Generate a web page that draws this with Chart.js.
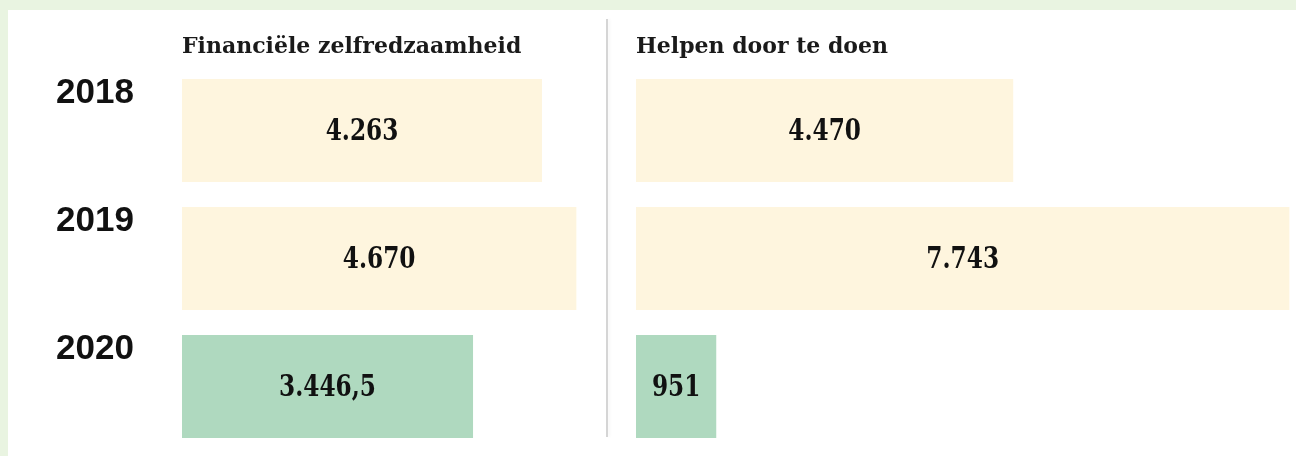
<!DOCTYPE html>
<html>
<head>
<meta charset="utf-8">
<script src="https://cdn.jsdelivr.net/npm/chart.js@4/dist/chart.umd.min.js"></script>
<style>
  body { margin: 0; width: 1296px; height: 456px; background: #e9f4e1; overflow: hidden; position: relative; }
  .panel { position: absolute; left: 8px; top: 10px; right: 0; bottom: 0; background: #fff; }
  .divider { position: absolute; left: 606px; top: 19px; height: 418px; width: 0; border-left: 2px solid #d5d5d5; box-shadow: 2px 0 3px rgba(0,0,0,0.04); }
  #links { position: absolute; left: 0; top: 0; }
  #rechts { position: absolute; left: 606px; top: 0; }
</style>
</head>
<body>
<div class="panel"></div>
<div class="divider"></div>
<canvas id="links" width="606" height="456"></canvas>
<canvas id="rechts" width="690" height="456"></canvas>
<script>
const years = ['2018', '2019', '2020'];
const financieel = [4263, 4670, 3446.5];
const helpen = [4470, 7743, 951];
const titles = ['Financiële zelfredzaamheid', 'Helpen door te doen'];

const cream = '#fef5de';
const green = '#afd9bf';
const barColors = [cream, cream, green];

// titel linksboven het chart area + waarden midden in de balken
const panelText = {
  id: 'panelText',
  afterDatasetsDraw(chart, args, opts) {
    const ctx = chart.ctx;
    ctx.save();
    ctx.fillStyle = '#1a1a1a';
    ctx.font = 'bold 22px "DejaVu Serif"';
    ctx.textAlign = 'left';
    ctx.textBaseline = 'middle';
    ctx.fillText(opts.title, chart.chartArea.left, 47);

    // smalle, hoge cijfers
    ctx.font = 'bold 30px "DejaVu Serif Condensed", "DejaVu Serif"';
    ctx.textAlign = 'center';
    ctx.fillStyle = '#111';
    const meta = chart.getDatasetMeta(0);
    meta.data.forEach((bar, i) => {
      const v = chart.data.datasets[0].data[i];
      const x = (bar.base + bar.x) / 2;
      ctx.save();
      ctx.translate(x, bar.y + 2);
      ctx.scale(0.86, 1);
      ctx.fillText(v.toLocaleString('nl-NL'), 0, 0);
      ctx.restore();
    });
    ctx.restore();
  }
};

function makeChart(id, data, title, max, showYears) {
  return new Chart(document.getElementById(id), {
    type: 'bar',
    data: {
      labels: years,
      datasets: [{
        data: data,
        backgroundColor: barColors,
        borderWidth: 0,
        barPercentage: 0.805,
        categoryPercentage: 1
      }]
    },
    options: {
      indexAxis: 'y',
      responsive: false,
      animation: false,
      layout: { padding: { top: 66.5, bottom: 5.5, right: 6, left: showYears ? 56 : 30 } },
      scales: {
        x: { display: false, min: 0, max: max },
        y: {
          display: showYears,
          grid: { display: false, drawTicks: false },
          border: { display: false },
          afterFit: (scale) => {
            if (!showYears) return;
            scale.width = 126;
            scale.paddingTop = 0;
            scale.paddingBottom = 0;
          },
          ticks: {
            padding: 0,
            crossAlign: 'far',
            labelOffset: -37,
            color: '#111',
            font: { family: '"Liberation Sans", Arial', size: 35, weight: 'bold' }
          }
        }
      },
      plugins: {
        legend: { display: false },
        tooltip: { enabled: false },
        panelText: { title: title }
      }
    },
    plugins: [panelText]
  });
}

makeChart('links', financieel, titles[0], 4950, true);
makeChart('rechts', helpen, titles[1], 7750, false);
</script>
</body>
</html>
